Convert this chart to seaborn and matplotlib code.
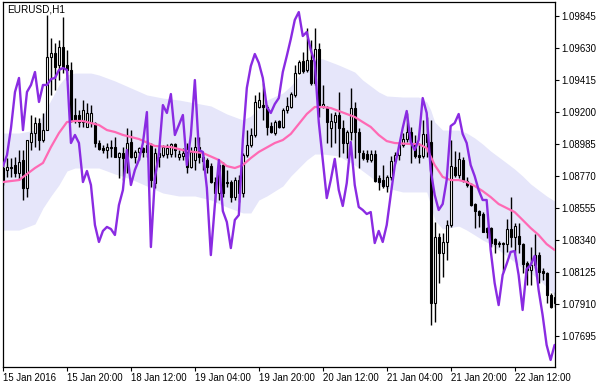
import numpy as np
import matplotlib
matplotlib.use("Agg")
import matplotlib.pyplot as plt
import seaborn as sns

symbol_title = "EURUSD,H1"
time_labels = ["15 Jan 2016", "15 Jan 20:00", "18 Jan 12:00", "19 Jan 04:00",
               "19 Jan 20:00", "20 Jan 12:00", "21 Jan 04:00", "21 Jan 20:00",
               "22 Jan 12:00"]
time_label_bars = [0, 16, 32, 48, 64, 80, 96, 112, 128]
price_ticks = [1.09845, 1.09630, 1.09415, 1.09200, 1.08985, 1.08770,
               1.08555, 1.08340, 1.08125, 1.07910, 1.07695]

opens = [1.08823, 1.08810, 1.08830, 1.08843, 1.08789, 1.08877, 1.08689, 1.08998, 1.09058, 1.09125,
         1.09011, 1.09078, 1.09569, 1.09596, 1.09515, 1.09636, 1.09515, 1.09482, 1.09179, 1.09179,
         1.09132, 1.09099, 1.09132, 1.09125, 1.08991, 1.08957, 1.08944, 1.08957, 1.08964, 1.08897,
         1.08924, 1.08897, 1.08998, 1.08897, 1.08931, 1.08957, 1.08931, 1.08978, 1.08722, 1.08897,
         1.08910, 1.08917, 1.08917, 1.08984, 1.08897, 1.08904, 1.08931, 1.08830, 1.08877, 1.08964,
         1.08897, 1.08877, 1.08836, 1.08729, 1.08655, 1.08843, 1.08729, 1.08729, 1.08628, 1.08742,
         1.08655, 1.08910, 1.08978, 1.09045, 1.09233, 1.09246, 1.09233, 1.09105, 1.09058, 1.09139,
         1.09099, 1.09213, 1.09233, 1.09314, 1.09461, 1.09542, 1.09482, 1.09549, 1.09394, 1.09623,
         1.09233, 1.09226, 1.09092, 1.09132, 1.09179, 1.09092, 1.08991, 1.09065, 1.09226, 1.09065,
         1.08924, 1.08917, 1.08877, 1.08917, 1.08756, 1.08742, 1.08702, 1.08763, 1.08870, 1.08910,
         1.08978, 1.09018, 1.09065, 1.08991, 1.08910, 1.08904, 1.09052, 1.08998, 1.07916, 1.08359,
         1.08252, 1.08326, 1.08440, 1.08830, 1.08776, 1.08877, 1.08736, 1.08709, 1.08581, 1.08534,
         1.08514, 1.08420, 1.08420, 1.08346, 1.08312, 1.08319, 1.08312, 1.08413, 1.08359, 1.08366,
         1.08312, 1.08185, 1.08138, 1.08171, 1.08238, 1.08131, 1.08117, 1.07970, 1.07916]
highs = [1.08877, 1.08890, 1.08890, 1.08897, 1.08944, 1.08944, 1.09011, 1.09179, 1.09166, 1.09159,
         1.09193, 1.09851, 1.09697, 1.09663, 1.09683, 1.09838, 1.09616, 1.09535, 1.09293, 1.09213,
         1.09280, 1.09260, 1.09246, 1.09132, 1.09011, 1.08978, 1.08991, 1.09011, 1.09031, 1.08931,
         1.08964, 1.09092, 1.09078, 1.08944, 1.08964, 1.08964, 1.09011, 1.08991, 1.08957, 1.08964,
         1.08978, 1.08984, 1.08991, 1.08991, 1.08944, 1.08957, 1.08991, 1.08964, 1.09031, 1.09031,
         1.08924, 1.08890, 1.08857, 1.08763, 1.08877, 1.08863, 1.08810, 1.08742, 1.08763, 1.08776,
         1.08924, 1.09078, 1.09092, 1.09314, 1.09334, 1.09394, 1.09246, 1.09132, 1.09146, 1.09146,
         1.09226, 1.09300, 1.09334, 1.09515, 1.09549, 1.09603, 1.09764, 1.09683, 1.09764, 1.09663,
         1.09381, 1.09240, 1.09193, 1.09199, 1.09334, 1.09146, 1.09078, 1.09361, 1.09267, 1.09092,
         1.08944, 1.08944, 1.08944, 1.08944, 1.08776, 1.08843, 1.08776, 1.08904, 1.08931, 1.08998,
         1.09058, 1.09193, 1.09099, 1.09045, 1.08991, 1.09146, 1.09166, 1.09146, 1.08460, 1.08386,
         1.08386, 1.08474, 1.09011, 1.08937, 1.08931, 1.08897, 1.08763, 1.08722, 1.08588, 1.08541,
         1.08527, 1.08427, 1.08427, 1.08353, 1.08332, 1.08326, 1.08480, 1.08628, 1.08453, 1.08453,
         1.08319, 1.08198, 1.08292, 1.08380, 1.08259, 1.08151, 1.08124, 1.07983, 1.07990]
lows = [1.08709, 1.08763, 1.08763, 1.08763, 1.08742, 1.08608, 1.08628, 1.08944, 1.08964, 1.08944,
        1.08998, 1.09078, 1.09314, 1.09347, 1.09414, 1.09461, 1.09414, 1.09132, 1.09125, 1.09099,
        1.09099, 1.09099, 1.09099, 1.08964, 1.08944, 1.08924, 1.08890, 1.08897, 1.08897, 1.08756,
        1.08742, 1.08789, 1.08890, 1.08857, 1.08877, 1.08897, 1.08897, 1.08695, 1.08689, 1.08830,
        1.08897, 1.08890, 1.08897, 1.08897, 1.08877, 1.08877, 1.08789, 1.08823, 1.08810, 1.08857,
        1.08810, 1.08789, 1.08722, 1.08595, 1.08608, 1.08628, 1.08695, 1.08595, 1.08608, 1.08595,
        1.08628, 1.08897, 1.08964, 1.09031, 1.09226, 1.09146, 1.09045, 1.09058, 1.09045, 1.09092,
        1.09092, 1.09193, 1.09226, 1.09300, 1.09455, 1.09461, 1.09468, 1.09381, 1.09381, 1.09166,
        1.09226, 1.08991, 1.08964, 1.08991, 1.08897, 1.08924, 1.08890, 1.09011, 1.08890, 1.08823,
        1.08877, 1.08863, 1.08863, 1.08729, 1.08675, 1.08689, 1.08662, 1.08742, 1.08857, 1.08877,
        1.08964, 1.08998, 1.08857, 1.08890, 1.08857, 1.08890, 1.08897, 1.07768, 1.07788, 1.08050,
        1.08091, 1.08205, 1.08427, 1.08763, 1.08756, 1.08729, 1.08695, 1.08568, 1.08420, 1.08427,
        1.08393, 1.08353, 1.08292, 1.08252, 1.08292, 1.08124, 1.08259, 1.08292, 1.08252, 1.08252,
        1.08117, 1.08037, 1.08037, 1.08151, 1.08050, 1.08070, 1.07916, 1.07882, 1.07889]
closes = [1.08729, 1.08830, 1.08823, 1.08789, 1.08863, 1.08689, 1.09011, 1.09058, 1.09125, 1.09011,
          1.09078, 1.09569, 1.09596, 1.09502, 1.09636, 1.09502, 1.09482, 1.09146, 1.09146, 1.09132,
          1.09213, 1.09193, 1.09193, 1.08991, 1.08951, 1.08944, 1.08964, 1.08964, 1.08897, 1.08924,
          1.08890, 1.08991, 1.08897, 1.08931, 1.08957, 1.08931, 1.08978, 1.08742, 1.08924, 1.08924,
          1.08964, 1.08957, 1.08984, 1.08944, 1.08917, 1.08924, 1.08830, 1.08931, 1.08964, 1.08897,
          1.08870, 1.08830, 1.08729, 1.08655, 1.08843, 1.08655, 1.08722, 1.08628, 1.08742, 1.08655,
          1.08910, 1.08978, 1.09045, 1.09267, 1.09280, 1.09233, 1.09099, 1.09065, 1.09132, 1.09099,
          1.09213, 1.09240, 1.09320, 1.09461, 1.09535, 1.09475, 1.09549, 1.09394, 1.09623, 1.09233,
          1.09253, 1.09132, 1.09139, 1.09179, 1.09092, 1.08991, 1.09065, 1.09226, 1.09065, 1.08931,
          1.08890, 1.08884, 1.08917, 1.08736, 1.08729, 1.08702, 1.08763, 1.08870, 1.08910, 1.08978,
          1.09018, 1.09065, 1.08991, 1.08904, 1.08897, 1.09052, 1.08998, 1.07916, 1.08359, 1.08252,
          1.08326, 1.08440, 1.08836, 1.08776, 1.08884, 1.08742, 1.08709, 1.08574, 1.08534, 1.08507,
          1.08393, 1.08393, 1.08319, 1.08312, 1.08319, 1.08312, 1.08413, 1.08359, 1.08433, 1.08312,
          1.08178, 1.08138, 1.08171, 1.08238, 1.08124, 1.08117, 1.07970, 1.07889, 1.07956]

ma_bars = [0, 4, 8, 10, 12, 14, 16, 18, 20, 22, 24, 26, 28, 30, 34, 38, 42, 46, 50, 54,
           56, 58, 60, 62, 64, 68, 70, 72, 74, 76, 78, 80, 82, 84, 86, 88, 90, 92, 94, 96,
           98, 102, 104, 106, 108, 110, 112, 114, 116, 118, 120, 122, 124, 126, 128, 130,
           132, 134, 136, 138]
ma_values = [1.08729, 1.08742, 1.08823, 1.08857, 1.08964, 1.09058, 1.09132, 1.09139, 1.09139, 1.09125,
             1.09112, 1.09078, 1.09065, 1.09045, 1.09018, 1.08971, 1.08964, 1.08937, 1.08924, 1.08877,
             1.08836, 1.08823, 1.08843, 1.08890, 1.08931, 1.08991, 1.09011, 1.09052, 1.09119, 1.09186,
             1.09233, 1.09233, 1.09226, 1.09206, 1.09186, 1.09166, 1.09132, 1.09099, 1.09045, 1.09004,
             1.08991, 1.08984, 1.08984, 1.08957, 1.08843, 1.08763, 1.08742, 1.08742, 1.08729, 1.08702,
             1.08668, 1.08628, 1.08581, 1.08554, 1.08527, 1.08474, 1.08420, 1.08373, 1.08312, 1.08272]

band_bars = [0, 4, 8, 10, 12, 14, 16, 18, 22, 24, 28, 32, 36, 40, 44, 48, 52, 56, 60, 62,
             64, 66, 70, 72, 74, 76, 78, 80, 84, 88, 90, 92, 94, 96, 100, 104, 106, 107, 108, 110,
             114, 116, 118, 120, 122, 124, 126, 128, 130, 132, 134, 136, 138]
band_upper = [1.09058, 1.09058, 1.09078, 1.09179, 1.09280, 1.09381, 1.09448, 1.09461, 1.09461, 1.09448,
              1.09408, 1.09361, 1.09314, 1.09293, 1.09280, 1.09260, 1.09240, 1.09186, 1.09146, 1.09172,
              1.09226, 1.09280, 1.09327, 1.09374, 1.09441, 1.09508, 1.09562, 1.09556, 1.09515, 1.09468,
              1.09414, 1.09374, 1.09334, 1.09307, 1.09300, 1.09300, 1.09267, 1.09213, 1.09132, 1.09078,
              1.09078, 1.09058, 1.09025, 1.08984, 1.08937, 1.08897, 1.08857, 1.08816, 1.08769, 1.08716,
              1.08675, 1.08635, 1.08601]
band_lower = [1.08406, 1.08406, 1.08447, 1.08554, 1.08635, 1.08709, 1.08803, 1.08823, 1.08823, 1.08823,
              1.08783, 1.08749, 1.08702, 1.08655, 1.08635, 1.08635, 1.08608, 1.08561, 1.08521, 1.08521,
              1.08608, 1.08635, 1.08702, 1.08769, 1.08823, 1.08877, 1.08917, 1.08917, 1.08904, 1.08843,
              1.08803, 1.08763, 1.08716, 1.08689, 1.08662, 1.08662, 1.08662, 1.08574, 1.08474, 1.08413,
              1.08433, 1.08406, 1.08373, 1.08339, 1.08312, 1.08272, 1.08232, 1.08191, 1.08151, 1.08117,
              1.08077, 1.08023, 1.07970]

purple_values = [1.08836, 1.08910, 1.09092, 1.09334, 1.09428, 1.09078, 1.09334, 1.09381, 1.09468, 1.09267,
                 1.09381, 1.09381, 1.09421, 1.09428, 1.09482, 1.09495, 1.09482, 1.08991, 1.09045, 1.08991,
                 1.08729, 1.08803, 1.08709, 1.08440, 1.08326, 1.08400, 1.08427, 1.08413, 1.08373, 1.08574,
                 1.08675, 1.08944, 1.08709, 1.08810, 1.08877, 1.08991, 1.09199, 1.08292, 1.08756, 1.08917,
                 1.09246, 1.09193, 1.09320, 1.09045, 1.09112, 1.09179, 1.08843, 1.09045, 1.09414, 1.08944,
                 1.08931, 1.08689, 1.08238, 1.08574, 1.08877, 1.08534, 1.08460, 1.08285, 1.08474, 1.08507,
                 1.09011, 1.09361, 1.09508, 1.09589, 1.09529, 1.09428, 1.09233, 1.09193, 1.09253, 1.09293,
                 1.09468, 1.09576, 1.09690, 1.09818, 1.09871, 1.09710, 1.09737, 1.09616, 1.09535, 1.09132,
                 1.08877, 1.08621, 1.08742, 1.08884, 1.08675, 1.08568, 1.08722, 1.08998, 1.08709, 1.08561,
                 1.08541, 1.08514, 1.08527, 1.08319, 1.08400, 1.08326, 1.08440, 1.08642, 1.08836, 1.08957,
                 1.09092, 1.09206, 1.08998, 1.08944, 1.09011, 1.09293, 1.09193, 1.08810, 1.08642, 1.08541,
                 1.08581, 1.08742, 1.09105, 1.09125, 1.09186, 1.09052, 1.08991, 1.08843, 1.08769, 1.08675,
                 1.08608, 1.08608, 1.08272, 1.08050, 1.07902, 1.08104, 1.08178, 1.08259, 1.08265, 1.08104,
                 1.07869, 1.08144, 1.08171, 1.08232, 1.08003, 1.07835, 1.07634, 1.07533, 1.07634]

sns.set_style("white")
plt.rcParams["font.family"] = ["Liberation Sans", "DejaVu Sans"]

W, H = 607, 387
fig = plt.figure(figsize=(W / 100, H / 100), dpi=100)
fig.patch.set_facecolor("white")
ax = fig.add_axes([2.5 / W, 20 / H, 552.5 / W, 365 / H])
ax.set_facecolor("white")

bars = np.arange(len(opens))
o = np.array(opens)
c = np.array(closes)

ax.fill_between(band_bars, band_lower, band_upper, color="#E6E6FA", linewidth=0, zorder=1)

ax.vlines(bars, lows, highs, color="black", linewidth=1.0, zorder=2)
body_colors = ["white" if cc >= oo else "black" for oo, cc in zip(o, c)]
ax.bar(bars, np.abs(c - o), bottom=np.minimum(o, c), width=0.55,
       color=body_colors, edgecolor="black", linewidth=0.8, zorder=3)

sns.lineplot(x=ma_bars, y=ma_values, color="#FF69B4", linewidth=1.6, ax=ax,
             estimator=None, zorder=4)
sns.lineplot(x=bars, y=purple_values, color="#8A2BE2", linewidth=1.7, ax=ax,
             estimator=None, zorder=5)

ax.set_xlim(-0.125, 138.1)
ax.set_ylim(1.074858, 1.099386)
ax.set_xlabel("")
ax.set_ylabel("")

ax.set_xticks(time_label_bars)
ax.set_xticklabels(time_labels, ha="left")
ax.yaxis.tick_right()
ax.set_yticks(price_ticks)
ax.set_yticklabels([f"{v:.5f}" for v in price_ticks])
ax.tick_params(axis="both", direction="out", length=3, width=0.8, color="black",
               labelsize=6.9, labelcolor="black", pad=1.5)
ax.tick_params(axis="x", bottom=True)
ax.tick_params(axis="y", right=True, left=False)

for sp in ax.spines.values():
    sp.set_visible(True)
    sp.set_color("black")
    sp.set_linewidth(0.9)

ax.text(0.008, 0.994, symbol_title, transform=ax.transAxes, ha="left", va="top",
        fontsize=7.2, color="black", zorder=6)

fig.savefig("out.png", dpi=100, facecolor="white")
